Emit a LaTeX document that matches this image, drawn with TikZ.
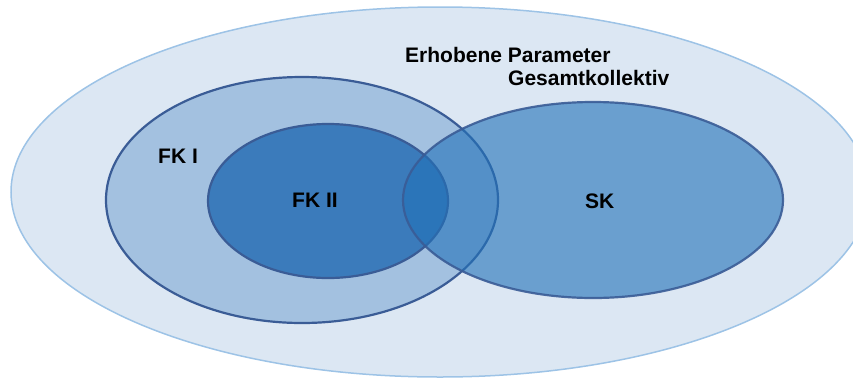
\documentclass[tikz,border=0pt]{standalone}
\usepackage{fontspec}
\setmainfont{Liberation Sans}
\usepackage{xcolor}
\definecolor{gesamtfill}{RGB}{220,231,243}
\definecolor{gesamtline}{RGB}{157,195,230}
\definecolor{fkeinsfill}{RGB}{163,193,224}
\definecolor{fkzweifill}{RGB}{59,123,187}
\definecolor{skfill}{RGB}{34,114,185}
\definecolor{mengeline}{RGB}{58,92,150}
\tikzset{
	menge/.style={draw=mengeline, line width=2.2pt},
	mengetext/.style={font=\fontsize{21}{25}\selectfont\bfseries, inner sep=0pt, anchor=base west}
}

\begin{document}
\begin{tikzpicture}[x=1pt, y=-1pt]
	\useasboundingbox (0,0) rectangle (853,378);
	\clip (0,0) rectangle (853,378);
	% Gesamtkollektiv
	\filldraw[fill=gesamtfill, draw=gesamtline, line width=1.5pt] (440,192) ellipse (429 and 185);
	% FK I und FK II
	\filldraw[menge, fill=fkeinsfill] (302,200) ellipse (196 and 123);
	\filldraw[menge, fill=fkzweifill] (328,201) ellipse (120 and 77);
	% SK
	\filldraw[menge, fill=skfill, fill opacity=0.61, draw opacity=0.9] (593,200) ellipse (190 and 98);
	\node[mengetext] (erhoben) at (405,62) {Erhobene Parameter};
	\node[mengetext] (gesamt) at (508,85) {Gesamtkollektiv};
	\node[mengetext] (fkeins) at (158,163) {FK I};
	\node[mengetext] (fkzwei) at (292,207) {FK II};
	\node[mengetext] (sk) at (585,208) {SK};
\end{tikzpicture}
\end{document}
